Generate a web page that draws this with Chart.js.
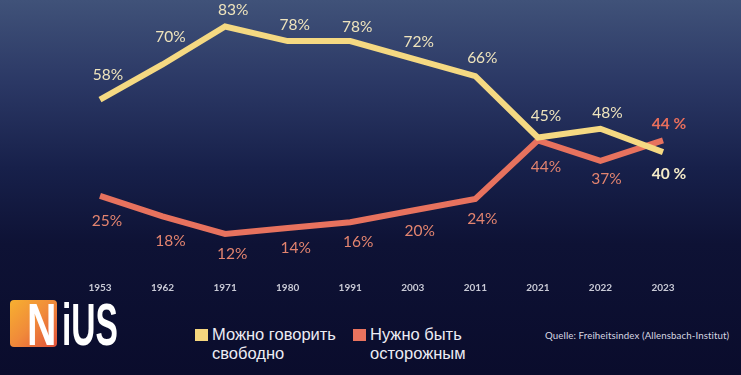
<!DOCTYPE html>
<html>
<head>
<meta charset="utf-8">
<script src="https://cdn.jsdelivr.net/npm/chart.js@4"></script>
<style>
  html, body { margin: 0; padding: 0; }
  body {
    width: 741px; height: 375px; overflow: hidden; position: relative;
    background: linear-gradient(to bottom, #405279 0%, #2b3865 22%, #17204a 45%, #0e1235 65%, #0a0c2c 100%);
    font-family: "Liberation Sans", Arial, sans-serif;
  }
  #wrap { position: absolute; left: 0; top: 0; width: 741px; height: 314px; }
  .logo { position: absolute; left: 10px; top: 299px; height: 48px; }
  .logo .box {
    position: absolute; left: 0; top: 1px; width: 47px; height: 47px; border-radius: 4px;
    background: linear-gradient(135deg, #f7b030 0%, #f08a3a 50%, #e0503a 100%);
  }
  .logo span {
    position: absolute; top: -9px; color: #fff; font-family: "Liberation Sans", sans-serif;
    font-weight: bold; font-size: 60px; transform-origin: left top;
  }
  .legend { position: absolute; top: 325px; color: #ececf4; font-size: 16.5px; line-height: 19px; }
  .legend .sw { position: absolute; left: -17px; top: 4px; width: 13px; height: 12px; }
  .source { position: absolute; left: 545px; top: 329px; color: #d8d8e2; font-family: "Lato", sans-serif; font-size: 9.7px; letter-spacing: 0.1px; white-space: nowrap; }
</style>
</head>
<body>
<div id="wrap"><canvas id="chart" width="741" height="314"></canvas></div>

<div class="logo">
  <div class="box"></div>
  <span style="left:17px; transform: scaleX(0.68)">N</span>
  <span style="left:52px; transform: scaleX(0.56)">iUS</span>
</div>

<div class="legend" style="left:212px"><div class="sw" style="background:#f5d67e"></div>Можно говорить<br>свободно</div>
<div class="legend" style="left:370px"><div class="sw" style="background:#e9735e"></div>Нужно быть<br>осторожным</div>
<div class="source">Quelle: Freiheitsindex (Allensbach-Institut)</div>

<script>
const years = ['1953', '1962', '1971', '1980', '1991', '2003', '2011', '2021', '2022', '2023'];
const freeValues = [58, 70, 83, 78, 78, 72, 66, 45, 48, 40];
const carefulValues = [25, 18, 12, 14, 16, 20, 24, 44, 37, 44];

// label offsets from the point (style only)
const freeOffsets = [[8, -25], [8, -27], [8, -16], [7, -16], [7, -14], [6, -17], [7, -18], [8, -22], [7, -16], [6, 22]];
const carefulOffsets = [[7, 25], [8, 25], [7, 20], [8, 20], [8, 20], [7, 20], [7, 20], [8, 27], [6, 18], [6, -16]];

const pointLabels = {
  id: 'pointLabels',
  afterDatasetsDraw(chart) {
    const ctx = chart.ctx;
    ctx.save();
    ctx.textAlign = 'center';
    ctx.textBaseline = 'middle';
    chart.data.datasets.forEach((ds, di) => {
      const meta = chart.getDatasetMeta(di);
      meta.data.forEach((pt, i) => {
        const last = i === ds.data.length - 1;
        const off = ds.labelOffsets[i];
        ctx.font = (last ? 'bold 15.5px' : '15.5px') + ' Lato, sans-serif';
        ctx.fillStyle = last ? ds.lastLabelColor : ds.labelColor;
        ctx.fillText(ds.data[i] + (last ? ' %' : '%'), pt.x + off[0], pt.y + off[1]);
      });
    });
    ctx.restore();
  }
};

new Chart(document.getElementById('chart').getContext('2d'), {
  type: 'line',
  data: {
    labels: years,
    datasets: [{
      label: 'Можно говорить свободно',
      data: freeValues,
      borderColor: '#f5d982',
      borderWidth: 6,
      pointRadius: 0,
      tension: 0,
      labelOffsets: freeOffsets,
      labelColor: '#efe4bd',
      lastLabelColor: '#f6ecc8'
    }, {
      label: 'Нужно быть осторожным',
      data: carefulValues,
      borderColor: '#e7725e',
      borderWidth: 6,
      pointRadius: 0,
      tension: 0,
      labelOffsets: carefulOffsets,
      labelColor: '#e3846f',
      lastLabelColor: '#ea6f5c'
    }]
  },
  options: {
    responsive: false,
    animation: false,
    layout: { padding: { left: 100, right: 78, top: 6, bottom: 7 } },
    plugins: { legend: { display: false }, tooltip: { enabled: false } },
    scales: {
      x: {
        offset: false,
        grid: { display: false, drawTicks: false },
        border: { display: false },
        ticks: { color: '#c9cad6', font: { family: 'Lato', size: 10, weight: 'bold' }, padding: 13, maxRotation: 0 }
      },
      y: { display: false, min: 0, max: 90 }
    }
  },
  plugins: [pointLabels]
});
</script>
</body>
</html>
